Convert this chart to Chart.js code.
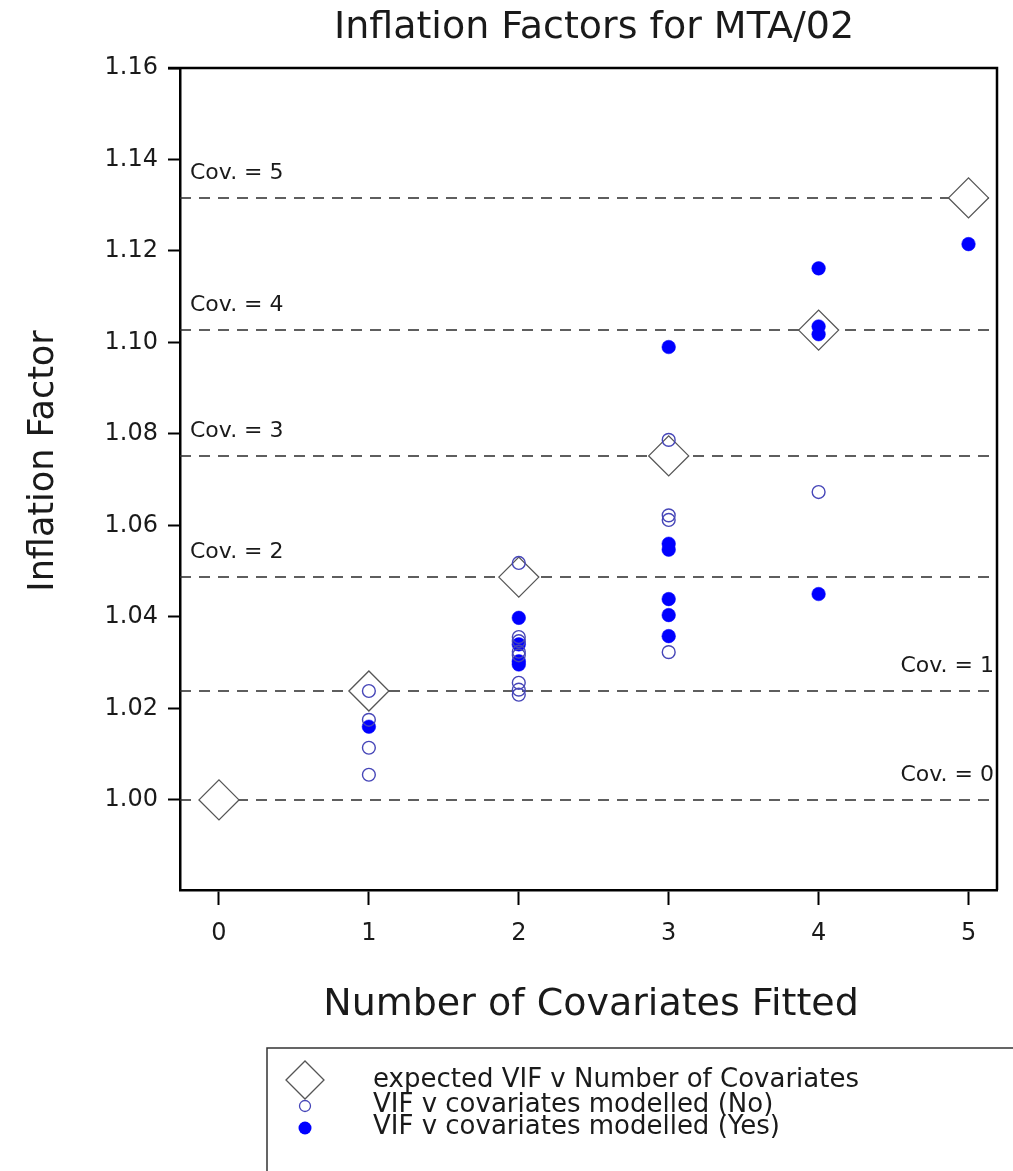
<!DOCTYPE html>
<html><head><meta charset="utf-8">
<script src="https://cdn.jsdelivr.net/npm/chart.js@4.4.1/dist/chart.umd.min.js"></script>
<style>html,body{margin:0;padding:0;background:#fff;} #wrap{width:1013px;height:1171px;position:relative;}</style>
</head><body><div id="wrap"><canvas id="c" width="1013" height="1171"></canvas></div>
<script>
const chartTitle = 'Inflation Factors for MTA/02';
const xTitle = 'Number of Covariates Fitted';
const yTitle = 'Inflation Factor';
const covariateCounts = [0, 1, 2, 3, 4, 5];
const expectedVIF = [1.0000, 1.0238, 1.0487, 1.0752, 1.1027, 1.1316];
const covLabels = ['Cov. = 0', 'Cov. = 1', 'Cov. = 2', 'Cov. = 3', 'Cov. = 4', 'Cov. = 5'];
const noX = [1, 1, 1, 1, 2, 2, 2, 2, 2, 2, 2, 2, 3, 3, 3, 3, 4];
const noY = [1.0238, 1.0175, 1.0114, 1.0055, 1.0518, 1.0356, 1.0347, 1.0324, 1.0316, 1.0256, 1.0241, 1.0230, 1.0787, 1.0622, 1.0612, 1.0323, 1.0673];
const yesX = [1, 2, 2, 2, 2, 3, 3, 3, 3, 3, 3, 4, 4, 4, 4, 5];
const yesY = [1.0160, 1.0398, 1.0340, 1.0303, 1.0296, 1.0990, 1.0560, 1.0547, 1.0439, 1.0404, 1.0358, 1.1162, 1.1035, 1.1018, 1.0450, 1.1215];
const xTicks = [0, 1, 2, 3, 4, 5];
const yTicks = [1.00, 1.02, 1.04, 1.06, 1.08, 1.10, 1.12, 1.14, 1.16];
const legendLabels = ['expected VIF v Number of Covariates', 'VIF v covariates modelled (No)', 'VIF v covariates modelled (Yes)'];

const X_MIN = -0.26, X_MAX = 5.19, Y_MIN = 0.9803, Y_MAX = 1.16;
const FONT = '"DejaVu Sans", sans-serif';
const TXT = '#1a1a1a';
const OPEN_C = '#4646b8';
const FILL_C = '#0000ff';
const DIA_C = '#555555';

const datasets = [];
expectedVIF.forEach((v, i) => {
  datasets.push({
    type: 'line', label: covLabels[i],
    data: [{x: X_MIN, y: v}, {x: X_MAX, y: v}],
    borderColor: '#2a2a2a', borderWidth: 1.5, borderDash: [11, 8],
    pointRadius: 0, fill: false, order: 3
  });
});
datasets.push({
  type: 'scatter', label: legendLabels[0],
  data: covariateCounts.map((c, i) => ({x: c, y: expectedVIF[i]})),
  pointStyle: 'rectRot', pointRadius: 20, pointBorderWidth: 1.3,
  pointBorderColor: DIA_C, pointBackgroundColor: '#ffffff', order: 2
});
datasets.push({
  type: 'scatter', label: legendLabels[2],
  data: yesX.map((x, i) => ({x: x, y: yesY[i]})),
  pointStyle: 'circle', pointRadius: 6.8, pointBorderWidth: 0.5,
  pointBorderColor: FILL_C, pointBackgroundColor: FILL_C, order: 1
});
datasets.push({
  type: 'scatter', label: legendLabels[1],
  data: noX.map((x, i) => ({x: x, y: noY[i]})),
  pointStyle: 'circle', pointRadius: 6.4, pointBorderWidth: 1.4,
  pointBorderColor: OPEN_C, pointBackgroundColor: 'rgba(0,0,0,0)', order: 0
});

const decor = {
  id: 'decor',
  afterDraw(chart) {
    const ctx = chart.ctx, a = chart.chartArea;
    const ys = chart.scales.y;
    ctx.save();
    ctx.strokeStyle = '#000'; ctx.lineWidth = 2.5;
    ctx.beginPath();
    ctx.moveTo(a.left - 12, a.top); ctx.lineTo(a.right, a.top); ctx.lineTo(a.right, a.bottom);
    ctx.stroke();
    ctx.fillStyle = TXT; ctx.font = '22px ' + FONT; ctx.textBaseline = 'middle';
    expectedVIF.forEach((v, i) => {
      const py = ys.getPixelForValue(v) - 25;
      if (i <= 1) { ctx.textAlign = 'right'; ctx.fillText(covLabels[i], a.right - 3, py); }
      else { ctx.textAlign = 'left'; ctx.fillText(covLabels[i], a.left + 10, py); }
    });
    ctx.textAlign = 'center';
    ctx.font = '38px ' + FONT;
    ctx.fillText(chartTitle, 594, 28);
    ctx.fillText(xTitle, 591, 1005);
    ctx.save();
    ctx.translate(44, 461); ctx.rotate(-Math.PI / 2);
    ctx.font = '35px ' + FONT;
    ctx.fillText(yTitle, 0, 0);
    ctx.restore();
    ctx.strokeStyle = '#333'; ctx.lineWidth = 1.5;
    ctx.strokeRect(267, 1048, 800, 200);
    ctx.strokeStyle = DIA_C; ctx.lineWidth = 1.3; ctx.fillStyle = '#fff';
    ctx.beginPath(); ctx.moveTo(286, 1080); ctx.lineTo(305, 1061); ctx.lineTo(324, 1080); ctx.lineTo(305, 1099); ctx.closePath(); ctx.fill(); ctx.stroke();
    ctx.strokeStyle = OPEN_C; ctx.lineWidth = 1.3;
    ctx.beginPath(); ctx.arc(305, 1106, 5.5, 0, Math.PI * 2); ctx.stroke();
    ctx.fillStyle = FILL_C;
    ctx.beginPath(); ctx.arc(305, 1128, 6.5, 0, Math.PI * 2); ctx.fill();
    ctx.fillStyle = TXT; ctx.textAlign = 'left'; ctx.font = '26px ' + FONT;
    ctx.fillText(legendLabels[0], 373, 1080);
    ctx.fillText(legendLabels[1], 373, 1105);
    ctx.fillText(legendLabels[2], 373, 1127);
    ctx.restore();
  }
};

new Chart(document.getElementById('c'), {
  type: 'scatter',
  data: { datasets },
  options: {
    responsive: false, animation: false, devicePixelRatio: 1,
    layout: { autoPadding: false, padding: { top: 68, right: 16, left: 0, bottom: 0 } },
    plugins: { legend: { display: false }, title: { display: false }, tooltip: { enabled: false } },
    scales: {
      x: {
        type: 'linear', min: X_MIN, max: X_MAX,
        afterBuildTicks: s => { s.ticks = xTicks.map(v => ({value: v})); },
        afterFit: s => { s.height = 281; s.paddingLeft = 0; s.paddingRight = 0; },
        ticks: { font: { family: FONT, size: 24 }, color: TXT, padding: 14, maxRotation: 0, callback: v => String(v) },
        grid: { drawOnChartArea: false, drawTicks: true, tickLength: 15, tickWidth: 2, tickColor: '#000' },
        border: { display: true, color: '#000', width: 2.5 }
      },
      y: {
        type: 'linear', min: Y_MIN, max: Y_MAX,
        afterBuildTicks: s => { s.ticks = yTicks.map(v => ({value: v})); },
        afterFit: s => { s.width = 180; s.paddingTop = 0; s.paddingBottom = 0; },
        ticks: { font: { family: FONT, size: 24 }, color: TXT, padding: 10, callback: v => v.toFixed(2) },
        grid: { drawOnChartArea: false, drawTicks: true, tickLength: 12, tickWidth: 2, tickColor: '#000' },
        border: { display: true, color: '#000', width: 2.5 }
      }
    }
  },
  plugins: [decor]
});
</script></body></html>
